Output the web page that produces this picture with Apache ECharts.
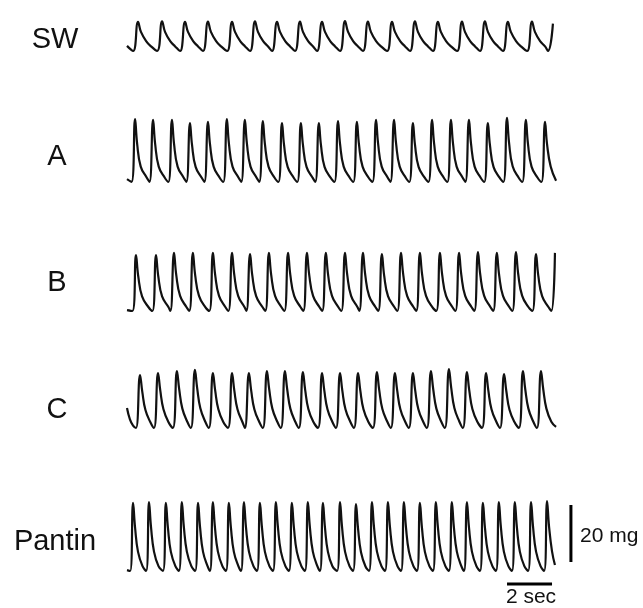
<!DOCTYPE html>
<html>
<head>
<meta charset="utf-8">
<script src="https://cdn.jsdelivr.net/npm/echarts@6/dist/echarts.min.js"></script>
<style>
html,body{margin:0;padding:0;background:#fff;}
#chart{width:643px;height:608px;}
</style>
</head>
<body>
<div id="chart"></div>
<script>
// Trace labels
const traceNames = ['SW', 'A', 'B', 'C', 'Pantin'];

// Each trace: [time (s), force (mg above trough)]
const swTrace = [
[0,1.8],
[0.27,0],[0.49,10.2],[0.62,6.7],[0.85,3.5],[1.07,1.6],
[1.34,0],[1.56,10.4],[1.69,6.7],[1.92,3.5],[2.14,1.6],
[2.36,0],[2.58,10.2],[2.71,6.7],[2.94,3.5],[3.16,1.6],
[3.38,0],[3.60,10.3],[3.73,6.7],[3.96,3.5],[4.18,1.6],
[4.45,0],[4.67,10.2],[4.80,6.7],[5.03,3.5],[5.25,1.6],
[5.47,0],[5.69,10.4],[5.82,6.7],[6.05,3.5],[6.27,1.6],
[6.45,0],[6.67,10.2],[6.80,6.7],[7.03,3.5],[7.25,1.6],
[7.47,0],[7.69,10.3],[7.82,6.7],[8.05,3.5],[8.27,1.6],
[8.45,0],[8.67,10.2],[8.80,6.7],[9.03,3.5],[9.25,1.6],
[9.47,0],[9.69,10.5],[9.82,6.8],[10.05,3.5],[10.27,1.6],
[10.49,0],[10.71,10.3],[10.84,6.7],[11.07,3.5],[11.29,1.6],
[11.56,0],[11.78,10.2],[11.91,6.7],[12.14,3.5],[12.36,1.6],
[12.58,0],[12.80,10.4],[12.93,6.7],[13.16,3.5],[13.38,1.6],
[13.60,0],[13.82,10.2],[13.95,6.7],[14.18,3.5],[14.40,1.6],
[14.67,0],[14.89,10.3],[15.02,6.7],[15.25,3.5],[15.47,1.6],
[15.69,0],[15.91,10.4],[16.04,6.7],[16.27,3.5],[16.49,1.6],
[16.71,0],[16.93,10.2],[17.06,6.7],[17.29,3.5],[17.51,1.6],
[17.78,0],[18.00,10.3],[18.13,6.7],[18.36,3.5],[18.58,1.6],
[18.71,0],[18.93,9.6]
];

const aTrace = [
[0,1.0],
[0.20,0],[0.36,22.1],[0.45,13.5],[0.61,5.4],[0.88,1.5],
[1.00,0],[1.16,21.8],[1.25,13.5],[1.41,5.4],[1.68,1.5],
[1.84,0],[2.00,21.8],[2.09,13.5],[2.25,5.4],[2.52,1.5],
[2.64,0],[2.80,20.7],[2.89,13.0],[3.05,5.3],[3.32,1.5],
[3.44,0],[3.60,21.1],[3.69,13.2],[3.85,5.4],[4.12,1.5],
[4.28,0],[4.44,22.1],[4.53,13.5],[4.69,5.4],[4.96,1.5],
[5.08,0],[5.24,21.8],[5.33,13.5],[5.49,5.4],[5.76,1.5],
[5.88,0],[6.04,21.4],[6.13,13.3],[6.29,5.4],[6.56,1.5],
[6.73,0],[6.89,20.7],[6.98,13.0],[7.14,5.3],[7.41,1.5],
[7.57,0],[7.73,20.7],[7.82,13.0],[7.98,5.3],[8.25,1.5],
[8.37,0],[8.53,20.7],[8.62,13.0],[8.78,5.3],[9.05,1.5],
[9.22,0],[9.38,21.4],[9.47,13.3],[9.63,5.4],[9.90,1.5],
[10.06,0],[10.22,21.1],[10.31,13.2],[10.47,5.4],[10.74,1.5],
[10.91,0],[11.07,21.8],[11.16,13.5],[11.32,5.4],[11.59,1.5],
[11.71,0],[11.87,21.8],[11.96,13.5],[12.12,5.4],[12.39,1.5],
[12.55,0],[12.71,20.7],[12.80,13.0],[12.96,5.3],[13.23,1.5],
[13.40,0],[13.56,21.8],[13.65,13.5],[13.81,5.4],[14.08,1.5],
[14.24,0],[14.40,21.8],[14.49,13.5],[14.65,5.4],[14.92,1.5],
[15.04,0],[15.20,21.8],[15.29,13.5],[15.45,5.4],[15.72,1.5],
[15.88,0],[16.04,20.7],[16.13,13.0],[16.29,5.3],[16.56,1.5],
[16.73,0],[16.89,22.5],[16.98,13.8],[17.14,5.5],[17.41,1.5],
[17.57,0],[17.73,21.8],[17.82,13.5],[17.98,5.4],[18.25,1.5],
[18.42,0],[18.58,21.1],[18.67,13.2],[18.83,5.4],[19.07,0.4]
];

const bTrace = [
[0,0.3],
[0.24,0],[0.40,19.6],[0.50,12.2],[0.67,5.1],[0.95,1.4],
[1.13,0],[1.29,19.6],[1.39,12.2],[1.56,5.1],[1.84,1.4],
[1.93,0],[2.09,20.4],[2.19,12.6],[2.36,5.3],[2.64,1.4],
[2.77,0],[2.93,20.4],[3.03,12.6],[3.20,5.3],[3.48,1.4],
[3.66,0],[3.82,20.4],[3.92,12.6],[4.09,5.3],[4.37,1.4],
[4.51,0],[4.67,20.4],[4.77,12.6],[4.94,5.3],[5.22,1.4],
[5.31,0],[5.47,20.0],[5.57,12.4],[5.74,5.2],[6.02,1.4],
[6.15,0],[6.31,20.4],[6.41,12.6],[6.58,5.3],[6.86,1.4],
[7.00,0],[7.16,20.4],[7.26,12.6],[7.43,5.3],[7.71,1.4],
[7.84,0],[8.00,20.4],[8.10,12.6],[8.27,5.3],[8.55,1.4],
[8.68,0],[8.84,20.4],[8.94,12.6],[9.11,5.3],[9.39,1.4],
[9.53,0],[9.69,20.4],[9.79,12.6],[9.96,5.3],[10.24,1.4],
[10.33,0],[10.49,20.4],[10.59,12.6],[10.76,5.3],[11.04,1.4],
[11.17,0],[11.33,20.0],[11.43,12.4],[11.60,5.2],[11.88,1.4],
[12.02,0],[12.18,20.4],[12.28,12.6],[12.45,5.3],[12.73,1.4],
[12.86,0],[13.02,20.4],[13.12,12.6],[13.29,5.3],[13.57,1.4],
[13.75,0],[13.91,20.4],[14.01,12.6],[14.18,5.3],[14.46,1.4],
[14.60,0],[14.76,20.4],[14.86,12.6],[15.03,5.3],[15.31,1.4],
[15.44,0],[15.60,20.7],[15.70,12.8],[15.87,5.4],[16.15,1.4],
[16.28,0],[16.44,20.4],[16.54,12.6],[16.71,5.3],[16.99,1.4],
[17.13,0],[17.29,20.7],[17.39,12.8],[17.56,5.4],[17.84,1.4],
[18.02,0],[18.18,20.0],[18.28,12.4],[18.45,5.2],[18.73,1.4],
[18.86,0],[19.02,20.4]
];

const cTrace = [
[0,7.0],[0.13,3.0],[0.27,0.8],
[0.40,0],[0.58,18.6],[0.68,12.7],[0.82,6.3],[1.04,2.0],
[1.20,0],[1.38,19.3],[1.48,13.1],[1.62,6.6],[1.84,2.1],
[2.04,0],[2.22,20.0],[2.32,13.6],[2.46,6.8],[2.68,2.2],
[2.84,0],[3.02,20.4],[3.12,13.9],[3.26,6.9],[3.48,2.2],
[3.64,0],[3.82,19.3],[3.92,13.1],[4.06,6.6],[4.28,2.1],
[4.49,0],[4.67,19.3],[4.77,13.1],[4.91,6.6],[5.13,2.1],
[5.24,0],[5.42,19.3],[5.52,13.1],[5.66,6.6],[5.88,2.1],
[6.04,0],[6.22,20.0],[6.32,13.6],[6.46,6.8],[6.68,2.2],
[6.84,0],[7.02,20.0],[7.12,13.6],[7.26,6.8],[7.48,2.2],
[7.64,0],[7.82,19.6],[7.92,13.3],[8.06,6.7],[8.28,2.2],
[8.49,0],[8.67,19.3],[8.77,13.1],[8.91,6.6],[9.13,2.1],
[9.29,0],[9.47,19.3],[9.57,13.1],[9.71,6.6],[9.93,2.1],
[10.09,0],[10.27,19.3],[10.37,13.1],[10.51,6.6],[10.73,2.1],
[10.93,0],[11.11,19.6],[11.21,13.3],[11.35,6.7],[11.57,2.2],
[11.73,0],[11.91,19.3],[12.01,13.1],[12.15,6.6],[12.37,2.1],
[12.53,0],[12.71,19.3],[12.81,13.1],[12.95,6.6],[13.17,2.1],
[13.33,0],[13.51,20.0],[13.61,13.6],[13.75,6.8],[13.97,2.2],
[14.13,0],[14.31,20.7],[14.41,14.1],[14.55,7.0],[14.77,2.3],
[14.93,0],[15.11,19.6],[15.21,13.3],[15.35,6.7],[15.57,2.2],
[15.78,0],[15.96,19.3],[16.06,13.1],[16.20,6.6],[16.42,2.1],
[16.58,0],[16.76,18.9],[16.86,12.9],[17.00,6.4],[17.22,2.1],
[17.42,0],[17.60,20.0],[17.70,13.6],[17.84,6.8],[18.06,2.2],
[18.22,0],[18.40,20.0],[18.50,13.6],[18.64,6.8],[18.86,2.2],[19.07,0.4]
];

const pantinTrace = [
[0,0.3],
[0.14,0],[0.27,23.9],[0.36,15.1],[0.49,6.7],[0.69,1.7],
[0.85,0],[0.98,24.2],[1.07,15.2],[1.20,6.8],[1.40,1.7],
[1.60,0],[1.73,23.9],[1.82,15.1],[1.95,6.7],[2.15,1.7],
[2.31,0],[2.44,24.2],[2.53,15.2],[2.66,6.8],[2.86,1.7],
[3.03,0],[3.16,23.9],[3.25,15.1],[3.38,6.7],[3.58,1.7],
[3.69,0],[3.82,24.2],[3.91,15.2],[4.04,6.8],[4.24,1.7],
[4.40,0],[4.53,23.9],[4.62,15.1],[4.75,6.7],[4.95,1.7],
[5.07,0],[5.20,24.2],[5.29,15.2],[5.42,6.8],[5.62,1.7],
[5.78,0],[5.91,23.9],[6.00,15.1],[6.13,6.7],[6.33,1.7],
[6.49,0],[6.62,24.2],[6.71,15.2],[6.84,6.8],[7.04,1.7],
[7.20,0],[7.33,23.9],[7.42,15.1],[7.55,6.7],[7.75,1.7],
[7.91,0],[8.04,24.2],[8.13,15.2],[8.26,6.8],[8.46,1.7],
[8.58,0],[8.71,23.9],[8.80,15.1],[8.93,6.7],[9.13,1.7],
[9.34,0],[9.47,24.2],[9.56,15.2],[9.69,6.8],[9.89,1.7],
[10.05,0],[10.18,23.5],[10.27,14.8],[10.40,6.6],[10.60,1.6],
[10.76,0],[10.89,24.2],[10.98,15.2],[11.11,6.8],[11.31,1.7],
[11.47,0],[11.60,24.2],[11.69,15.2],[11.82,6.8],[12.02,1.7],
[12.18,0],[12.31,24.2],[12.40,15.2],[12.53,6.8],[12.73,1.7],
[12.89,0],[13.02,23.9],[13.11,15.1],[13.24,6.7],[13.44,1.7],
[13.60,0],[13.73,24.2],[13.82,15.2],[13.95,6.8],[14.15,1.7],
[14.31,0],[14.44,24.2],[14.53,15.2],[14.66,6.8],[14.86,1.7],
[14.98,0],[15.11,24.2],[15.20,15.2],[15.33,6.8],[15.53,1.7],
[15.69,0],[15.82,23.9],[15.91,15.1],[16.04,6.7],[16.24,1.7],
[16.40,0],[16.53,24.2],[16.62,15.2],[16.75,6.8],[16.95,1.7],
[17.11,0],[17.24,24.2],[17.33,15.2],[17.46,6.8],[17.66,1.7],
[17.83,0],[17.96,24.2],[18.05,15.2],[18.18,6.8],[18.38,1.7],
[18.54,0],[18.67,24.5],[18.76,15.4],[18.89,6.9],[19.02,2.1]
];

// Scale bars (drawn through the Pantin axes)
const timeBarSec = 2;      // horizontal bar length, s
const timeBarStart = 16.89;
const timeBarLevel = -4.6;
const forceBarMg = 20;     // vertical bar length, mg
const forceBarBase = 3.2;
const forceBarTime = 19.73;
const scaleLabels = ['20 mg', '2 sec'];

const traces = [swTrace, aTrace, bTrace, cTrace, pantinTrace];

// Layout (pixels): 22.5 px per s, 2.85 px per mg
const PX_PER_S = 22.5, PX_PER_MG = 2.85;
const X0 = 127, XMAX = 20;
const troughPx = [51, 182, 311, 428, 571];
const yMin = [0, 0, 0, 0, -6];
const yMax = [12, 25, 25, 25, 25];
const labelPos = [[55, 40], [57, 157], [57, 283], [57, 410], [55, 542]];

const grids = [], xAxes = [], yAxes = [], series = [];
traces.forEach((tr, i) => {
  grids.push({
    left: X0,
    width: XMAX * PX_PER_S,
    top: troughPx[i] - yMax[i] * PX_PER_MG,
    height: (yMax[i] - yMin[i]) * PX_PER_MG
  });
  xAxes.push({type: 'value', gridIndex: i, min: 0, max: XMAX, show: false});
  yAxes.push({type: 'value', gridIndex: i, min: yMin[i], max: yMax[i], show: false});
  series.push({
    name: traceNames[i],
    type: 'line',
    xAxisIndex: i, yAxisIndex: i,
    data: tr,
    symbol: 'none',
    smooth: 0.45,
    clip: false,
    lineStyle: {color: '#111', width: 2.2},
    silent: true
  });
});

series.push({
  type: 'line', xAxisIndex: 4, yAxisIndex: 4, symbol: 'none', clip: false, silent: true,
  data: [[forceBarTime, forceBarBase], [forceBarTime, forceBarBase + forceBarMg]],
  lineStyle: {color: '#000', width: 3, cap: 'butt'}
});
series.push({
  type: 'line', xAxisIndex: 4, yAxisIndex: 4, symbol: 'none', clip: false, silent: true,
  data: [[timeBarStart, timeBarLevel], [timeBarStart + timeBarSec, timeBarLevel]],
  lineStyle: {color: '#000', width: 3, cap: 'butt'}
});

const FONT = '"Liberation Sans", Arial, Helvetica, sans-serif';
const graphic = traceNames.map((n, i) => ({
  type: 'text',
  x: labelPos[i][0], y: labelPos[i][1],
  style: {text: n, font: '29px ' + FONT, fill: '#111', textAlign: 'center', textVerticalAlign: 'middle'}
}));
graphic.push({type: 'text', x: 580, y: 536,
  style: {text: scaleLabels[0], font: '21px ' + FONT, fill: '#111', textAlign: 'left', textVerticalAlign: 'middle'}});
graphic.push({type: 'text', x: 531, y: 597,
  style: {text: scaleLabels[1], font: '21px ' + FONT, fill: '#111', textAlign: 'center', textVerticalAlign: 'middle'}});

const chart = echarts.init(document.getElementById('chart'), null, {renderer: 'canvas'});
chart.setOption({
  animation: false,
  backgroundColor: '#fff',
  grid: grids,
  xAxis: xAxes,
  yAxis: yAxes,
  series: series,
  graphic: graphic
});
</script>
</body>
</html>
